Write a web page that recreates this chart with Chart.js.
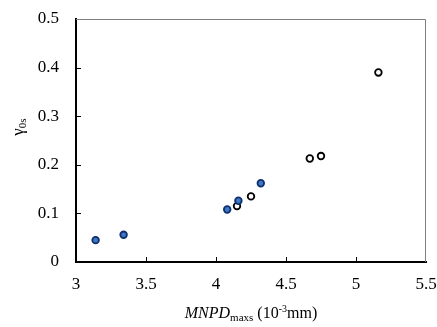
<!DOCTYPE html>
<html lang="en">
<head>
    <meta charset="UTF-8">
    <title>gamma0s vs MNPDmaxs</title>
    <script src="https://cdn.jsdelivr.net/npm/chart.js"></script>
    <style>
        body { margin: 0; background: #fff; }
        .wrap { width: 437px; height: 327px; }
    </style>
</head>
<body>
    <div class="wrap"><canvas id="chart" width="437" height="327"></canvas></div>
    <script>
        // Data
        const filledX = [3.14, 3.34, 4.08, 4.16, 4.32];
        const filledY = [0.045, 0.056, 0.108, 0.126, 0.162];
        const openX = [4.15, 4.25, 4.67, 4.75, 5.16];
        const openY = [0.115, 0.135, 0.213, 0.218, 0.390];
        const xTicks = [3, 3.5, 4, 4.5, 5, 5.5];
        const yTicks = [0, 0.1, 0.2, 0.3, 0.4, 0.5];

        const serif = "'Liberation Serif', 'Times New Roman', serif";

        // inside tick marks + top/right frame + axis titles
        const decor = {
            id: 'decor',
            afterDraw(chart) {
                const c = chart.ctx, a = chart.chartArea;
                const sx = chart.scales.x, sy = chart.scales.y;
                c.save();
                c.strokeStyle = '#7f7f7f';
                c.lineWidth = 1;
                c.beginPath();
                c.moveTo(a.left, a.top + 0.5); c.lineTo(a.right - 0.5, a.top + 0.5);
                c.lineTo(a.right - 0.5, a.bottom);
                c.stroke();
                c.strokeStyle = '#000';
                c.lineWidth = 1;
                c.beginPath();
                xTicks.forEach(v => {
                    const px = Math.round(sx.getPixelForValue(v)) + 0.5;
                    if (v === xTicks[0] || v === xTicks[xTicks.length - 1]) return;
                    c.moveTo(px, a.bottom); c.lineTo(px, a.bottom - 5);
                });
                yTicks.forEach(v => {
                    const py = Math.round(sy.getPixelForValue(v)) + 0.5;
                    if (v === yTicks[0] || v === yTicks[yTicks.length - 1]) return;
                    c.moveTo(a.left, py); c.lineTo(a.left + 5, py);
                });
                c.stroke();

                // x title: MNPD_maxs (10^-3mm)
                c.fillStyle = '#000';
                c.textBaseline = 'alphabetic';
                const parts = [
                    { t: 'MNPD', f: 'italic 16px ' + serif, dy: 0 },
                    { t: 'maxs', f: '11px ' + serif, dy: 3 },
                    { t: ' (10', f: '16px ' + serif, dy: 0 },
                    { t: '-3', f: '10px ' + serif, dy: -6 },
                    { t: 'mm)', f: '16px ' + serif, dy: 0 }
                ];
                let w = 0;
                parts.forEach(p => { c.font = p.f; w += c.measureText(p.t).width; });
                let x = (a.left + a.right) / 2 - w / 2;
                const base = 318;
                parts.forEach(p => {
                    c.font = p.f;
                    c.fillText(p.t, x, base + p.dy);
                    x += c.measureText(p.t).width;
                });

                // y title: gamma_0s rotated
                c.translate(23, 127);
                c.rotate(-Math.PI / 2);
                const yp = [
                    { t: 'γ', f: '17px ' + serif, dy: 0 },
                    { t: '0s', f: '11px ' + serif, dy: 3 }
                ];
                w = 0;
                yp.forEach(p => { c.font = p.f; w += c.measureText(p.t).width; });
                x = -w / 2;
                yp.forEach(p => {
                    c.font = p.f;
                    c.fillText(p.t, x, p.dy);
                    x += c.measureText(p.t).width;
                });
                c.restore();
            }
        };

        new Chart(document.getElementById('chart'), {
            type: 'scatter',
            data: {
                datasets: [
                    {
                        label: 'filled',
                        data: filledX.map((x, i) => ({ x: x, y: filledY[i] })),
                        backgroundColor: '#3c78c3',
                        borderColor: '#0f2f6e',
                        borderWidth: 1.8,
                        pointRadius: 3.3
                    },
                    {
                        label: 'open',
                        data: openX.map((x, i) => ({ x: x, y: openY[i] })),
                        backgroundColor: '#ffffff',
                        borderColor: '#000000',
                        borderWidth: 1.8,
                        pointRadius: 3.3
                    }
                ]
            },
            options: {
                responsive: false,
                animation: false,
                layout: { padding: { left: 0, right: 11, top: 19, bottom: 0 } },
                plugins: { legend: { display: false }, tooltip: { enabled: false } },
                scales: {
                    x: {
                        type: 'linear',
                        min: 3, max: 5.5,
                        afterBuildTicks: s => { s.ticks = xTicks.map(v => ({ value: v })); },
                        afterFit: s => { s.height = 65; s.paddingLeft = 0; s.paddingRight = 0; },
                        grid: { display: false },
                        border: { color: '#000', width: 2 },
                        ticks: {
                            color: '#000',
                            font: { family: serif, size: 17 },
                            padding: 4,
                            callback: v => String(v)
                        }
                    },
                    y: {
                        min: 0, max: 0.5,
                        afterBuildTicks: s => { s.ticks = yTicks.map(v => ({ value: v })); },
                        afterFit: s => { s.width = 76; s.paddingTop = 0; s.paddingBottom = 0; },
                        grid: { display: false },
                        border: { color: '#000', width: 2 },
                        ticks: {
                            color: '#000',
                            font: { family: serif, size: 17 },
                            padding: 9,
                            callback: v => String(v)
                        }
                    }
                }
            },
            plugins: [decor]
        });
    </script>
</body>
</html>
